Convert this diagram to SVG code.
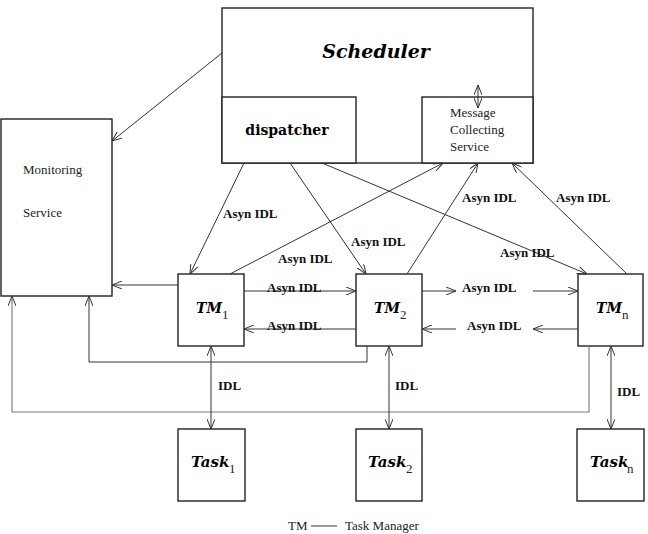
<svg xmlns="http://www.w3.org/2000/svg" width="648" height="534" viewBox="0 0 648 534">
<defs>
<marker id="ah" viewBox="0 0 10 8" refX="10" refY="4" markerWidth="10" markerHeight="8" markerUnits="userSpaceOnUse" orient="auto-start-reverse">
<path d="M0,0 L10,4 L0,8" fill="none" stroke="#333" stroke-width="1"/>
</marker>
<style>
.box{fill:#fff;stroke:#222;stroke-width:1.4}
.ln{fill:none;stroke:#333;stroke-width:1}
.lg{fill:none;stroke:#777;stroke-width:1.1}
.bi{font-family:"DejaVu Serif",serif;font-weight:bold;font-style:italic;fill:#000}
.b{font-family:"DejaVu Serif",serif;font-weight:bold;fill:#000}
.r{font-family:"Liberation Serif",serif;font-size:13px;fill:#222}
.lab{font-family:"Liberation Serif",serif;font-weight:bold;font-size:13px;fill:#111}
</style>
</defs>
<rect width="648" height="534" fill="#fff"/>

<g id="scheduler">
<rect class="box" x="222" y="8" width="311" height="155"/>
<text class="bi" x="376" y="58" font-size="19" text-anchor="middle">Scheduler</text>
</g>
<g id="dispatcher">
<rect class="box" x="222" y="97" width="134" height="66"/>
<text class="b" x="287" y="135" font-size="14" text-anchor="middle">dispatcher</text>
</g>
<g id="msgcollect">
<rect class="box" x="422" y="97" width="111" height="66"/>
<text class="r" x="450" y="117">Message</text>
<text class="r" x="450" y="134">Collecting</text>
<text class="r" x="450" y="151">Service</text>
</g>
<g id="monitoring">
<rect class="box" x="1" y="119" width="111" height="177"/>
<text class="r" x="23" y="174">Monitoring</text>
<text class="r" x="23" y="217">Service</text>
</g>
<g id="tm1">
<rect class="box" x="178" y="274" width="66" height="72"/>
<text class="bi" x="196" y="313" font-size="14">TM</text>
<text class="r" x="222" y="319" font-size="14">1</text>
</g>
<g id="tm2">
<rect class="box" x="356" y="274" width="66" height="72"/>
<text class="bi" x="374" y="313" font-size="14">TM</text>
<text class="r" x="400" y="319" font-size="14">2</text>
</g>
<g id="tmn">
<rect class="box" x="578" y="274" width="65" height="72"/>
<text class="bi" x="596" y="313" font-size="14">TM</text>
<text class="r" x="622" y="319" font-size="14">n</text>
</g>
<g id="task1">
<rect class="box" x="178" y="429" width="67" height="72"/>
<text class="bi" x="191" y="467" font-size="15">Task</text>
<text class="r" x="229" y="473">1</text>
</g>
<g id="task2">
<rect class="box" x="356" y="429" width="66" height="72"/>
<text class="bi" x="368" y="467" font-size="15">Task</text>
<text class="r" x="406" y="473">2</text>
</g>
<g id="taskn">
<rect class="box" x="577" y="429" width="67" height="72"/>
<text class="bi" x="590" y="467" font-size="15">Task</text>
<text class="r" x="627" y="473">n</text>
</g>

<g id="connectors">
<line class="ln" x1="222" y1="53" x2="112" y2="141" marker-end="url(#ah)"/>
<line class="ln" x1="478" y1="85" x2="478" y2="108" marker-start="url(#ah)" marker-end="url(#ah)"/>
<line class="ln" x1="244" y1="163" x2="190" y2="274" marker-end="url(#ah)"/>
<line class="ln" x1="290" y1="163" x2="366" y2="274" marker-end="url(#ah)"/>
<line class="ln" x1="322" y1="163" x2="587" y2="274" marker-end="url(#ah)"/>
<line class="ln" x1="230" y1="274" x2="443" y2="163" marker-end="url(#ah)"/>
<line class="ln" x1="407" y1="274" x2="478" y2="163" marker-end="url(#ah)"/>
<line class="ln" x1="627" y1="274" x2="512" y2="163" marker-end="url(#ah)"/>
<line class="ln" x1="178" y1="285" x2="112" y2="285" marker-end="url(#ah)"/>
<line class="ln" x1="244" y1="291" x2="356" y2="291" marker-end="url(#ah)"/>
<line class="ln" x1="356" y1="329" x2="244" y2="329" marker-end="url(#ah)"/>
<line class="ln" x1="422" y1="291" x2="456" y2="291" marker-end="url(#ah)"/>
<line class="ln" x1="533" y1="291" x2="578" y2="291" marker-end="url(#ah)"/>
<line class="ln" x1="578" y1="329" x2="533" y2="329" marker-end="url(#ah)"/>
<line class="ln" x1="456" y1="329" x2="422" y2="329" marker-end="url(#ah)"/>
<polyline class="ln" points="367,346 367,362 89,362 89,296" marker-end="url(#ah)"/>
<polyline class="lg" points="589,346 589,412 12,412 12,296" marker-end="url(#ah)"/>
<line class="ln" x1="211" y1="346" x2="211" y2="429" marker-start="url(#ah)" marker-end="url(#ah)"/>
<line class="ln" x1="389" y1="346" x2="389" y2="429" marker-start="url(#ah)" marker-end="url(#ah)"/>
<line class="ln" x1="611" y1="346" x2="611" y2="429" marker-start="url(#ah)" marker-end="url(#ah)"/>
</g>

<g id="labels">
<text class="lab" x="223" y="218">Asyn IDL</text>
<text class="lab" x="278" y="263">Asyn IDL</text>
<text class="lab" x="351" y="246">Asyn IDL</text>
<text class="lab" x="462" y="202">Asyn IDL</text>
<text class="lab" x="556" y="202">Asyn IDL</text>
<text class="lab" x="500" y="257">Asyn IDL</text>
<text class="lab" x="267" y="292">Asyn IDL</text>
<text class="lab" x="267" y="330">Asyn IDL</text>
<text class="lab" x="462" y="292">Asyn IDL</text>
<text class="lab" x="467" y="330">Asyn IDL</text>
<text class="lab" x="218" y="390">IDL</text>
<text class="lab" x="395" y="390">IDL</text>
<text class="lab" x="617" y="396">IDL</text>
</g>

<g id="legend">
<text class="r" x="288" y="530">TM</text>
<line class="ln" x1="311" y1="526" x2="337" y2="526"/>
<text class="r" x="345" y="530">Task Manager</text>
</g>
</svg>
